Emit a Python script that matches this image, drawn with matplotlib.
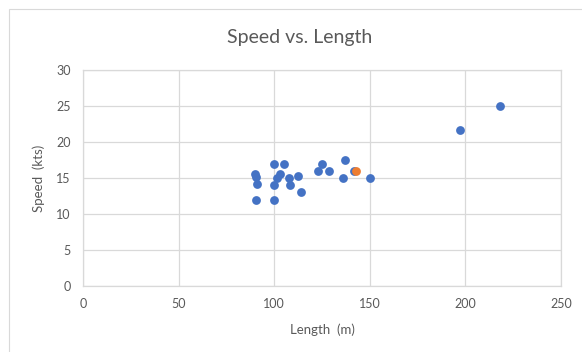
import matplotlib.pyplot as plt
from matplotlib.patches import Rectangle

plt.rcParams['font.family'] = ['Lato', 'DejaVu Sans']

# vessel length (m) and speed (kts)
length = [89.8, 90.5, 91.2, 90.6, 100, 105.2, 100, 100, 101.4, 102.8,
          107.5, 108.3, 112.2, 114.1, 122.7, 124.8, 128.6, 137.2, 136.1,
          141.7, 150, 197.4, 218.2]
speed = [15.5, 15.1, 14.1, 12, 17, 17, 12, 14, 15, 15.5,
         15, 14, 15.3, 13, 16, 17, 16, 17.5, 15,
         16, 15, 21.6, 25]
# highlighted vessel
hl_length = [143]
hl_speed = [16]

xticks = [0, 50, 100, 150, 200, 250]
yticks = [0, 5, 10, 15, 20, 25, 30]

grey = '#595959'
grid = '#D9D9D9'

fig = plt.figure(figsize=(5.82, 3.52), dpi=100)
fig.patches.append(Rectangle((9 / 582, -0.1), 1.1, 1 - 9 / 352 + 0.1,
                             transform=fig.transFigure, fill=False,
                             edgecolor=grid, linewidth=0.8))
ax = fig.add_axes([83 / 582, 1 - 286 / 352, 478 / 582, 216 / 352])

ax.scatter(length, speed, s=40, color='#4472C4', zorder=3, linewidths=0)
ax.scatter(hl_length, hl_speed, s=40, color='#ED7D31', zorder=4, linewidths=0)

ax.set_xlim(0, 250)
ax.set_ylim(0, 30)
ax.set_xticks(xticks)
ax.set_yticks(yticks)
ax.grid(True, color=grid, linewidth=0.9)
ax.set_axisbelow(True)
for s in ax.spines.values():
    s.set_color(grid)
    s.set_linewidth(0.9)
ax.tick_params(length=0, labelsize=9, labelcolor=grey, pad=9)

ax.set_xlabel('Length  (m)', fontsize=9.5, color=grey, labelpad=9)
ax.set_ylabel('Speed  (kts)', fontsize=9.5, color=grey, labelpad=8)
fig.text(300 / 582, 1 - 37 / 352, 'Speed vs. Length', ha='center', va='center',
         fontsize=14, color=grey)

fig.savefig('out.png', dpi=100)
